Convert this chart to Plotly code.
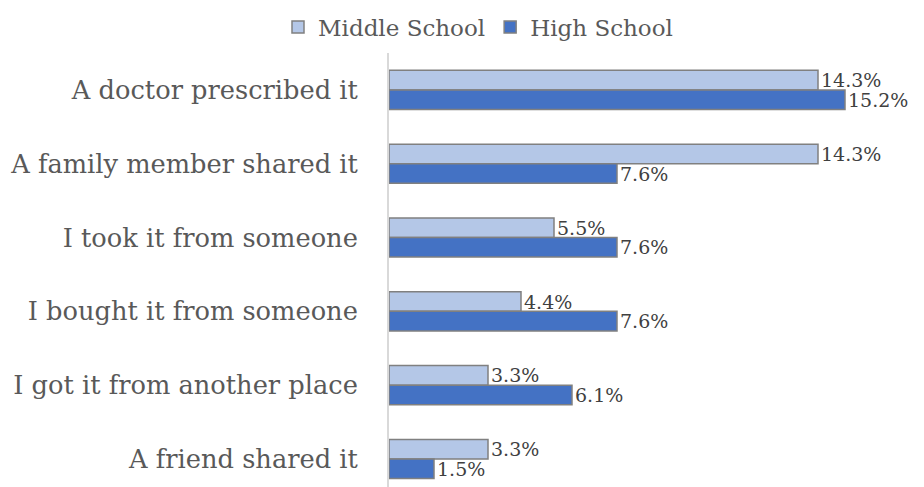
import plotly.graph_objects as go

# Where the medicine came from, share of students (%)
sources = [
    "A doctor prescribed it",
    "A family member shared it",
    "I took it from someone",
    "I bought it from someone",
    "I got it from another place",
    "A friend shared it",
]
middle_school = [14.3, 14.3, 5.5, 4.4, 3.3, 3.3]
high_school = [15.2, 7.6, 7.6, 7.6, 6.1, 1.5]

FONT = "DejaVu Serif"
TEXT_GRAY = "#595959"
LABEL_GRAY = "#404040"
EDGE = "#808080"

fig = go.Figure()
for name, vals, color in [
    ("Middle School", middle_school, "#b4c7e7"),
    ("High School", high_school, "#4472c4"),
]:
    fig.add_trace(go.Bar(
        name=name,
        y=sources,
        x=vals,
        orientation="h",
        marker=dict(color=color, line=dict(color=EDGE, width=1.5)),
        text=[f"{v:.1f}%" for v in vals],
        textposition="outside",
        textfont=dict(family=FONT, size=19, color=LABEL_GRAY),
        constraintext="none",
        cliponaxis=False,
    ))

W, H = 924, 487
left = 389
px_per_pct = 30.0
band = 73.9
top = 52.5

fig.update_layout(
    width=W, height=H,
    margin=dict(l=left, r=0, t=top, b=0),
    paper_bgcolor="white",
    plot_bgcolor="white",
    barmode="group",
    bargap=0.47,
    bargroupgap=0,
    showlegend=True,
    legend=dict(
        orientation="h",
        x=478 / W, xanchor="center",
        xref="container",
        y=1 - 27 / H, yanchor="middle",
        yref="container",
        font=dict(family=FONT, size=23, color=TEXT_GRAY),
        itemwidth=30,
        traceorder="normal",
    ),
)

plot_h = H - top
n_visible = plot_h / band
fig.update_xaxes(
    range=[0, (W - left) / px_per_pct],
    showticklabels=False,
    showgrid=False,
    zeroline=False,
    showline=False,
)
fig.update_yaxes(
    categoryorder="array",
    categoryarray=sources,
    range=[-0.5 + n_visible, -0.5],
    showline=True,
    linecolor="#d9d9d9",
    linewidth=2,
    showgrid=False,
    ticks="",
    ticklabelstandoff=24,
    tickfont=dict(family=FONT, size=25.7, color=TEXT_GRAY),
)

fig.write_html("out.html")
